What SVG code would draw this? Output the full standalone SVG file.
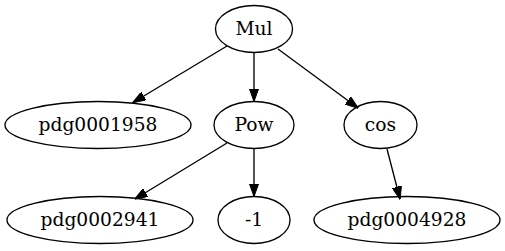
<svg xmlns="http://www.w3.org/2000/svg" width="505" height="251" viewBox="0 0 505 251">
<defs>
<style>
.n ellipse{fill:none;stroke:#000;stroke-width:1.33}
.n text{font-family:"DejaVu Serif","Liberation Serif",serif;font-size:18.67px;text-anchor:middle;fill:#000}
.e line{stroke:#000;stroke-width:1.33;marker-end:url(#ah)}
</style>
<marker id="ah" viewBox="0 0 13 9.4" refX="12.5" refY="4.7" markerWidth="13" markerHeight="9.4" markerUnits="userSpaceOnUse" orient="auto">
<path d="M0,0 L13,4.7 L0,9.4 Z" fill="#000" stroke="#000" stroke-width="1"/>
</marker>
</defs>
<rect width="505" height="251" fill="#fff"/>
<g class="e" id="edges">
<line x1="227" y1="46" x2="133" y2="102.5"/>
<line x1="254" y1="53" x2="254" y2="101"/>
<line x1="278" y1="49" x2="358" y2="108"/>
<line x1="227" y1="143" x2="135" y2="199"/>
<line x1="254" y1="149" x2="254" y2="196"/>
<line x1="387" y1="149" x2="400" y2="199"/>
</g>
<g class="n" id="Mul"><ellipse cx="254" cy="29" rx="38.5" ry="23.5"/><text x="254" y="35">Mul</text></g>
<g class="n" id="pdg0001958"><ellipse cx="98" cy="125" rx="93" ry="23.5"/><text x="98" y="131">pdg0001958</text></g>
<g class="n" id="Pow"><ellipse cx="254" cy="125" rx="40" ry="23.5"/><text x="254" y="131">Pow</text></g>
<g class="n" id="cos"><ellipse cx="380.5" cy="125" rx="36.5" ry="23.5"/><text x="380.5" y="131">cos</text></g>
<g class="n" id="pdg0002941"><ellipse cx="100" cy="220" rx="93" ry="23.5"/><text x="100" y="226">pdg0002941</text></g>
<g class="n" id="neg1"><ellipse cx="254" cy="220" rx="36" ry="23.5"/><text x="254" y="226">-1</text></g>
<g class="n" id="pdg0004928"><ellipse cx="407" cy="220" rx="93" ry="23.5"/><text x="407" y="226">pdg0004928</text></g>
</svg>
